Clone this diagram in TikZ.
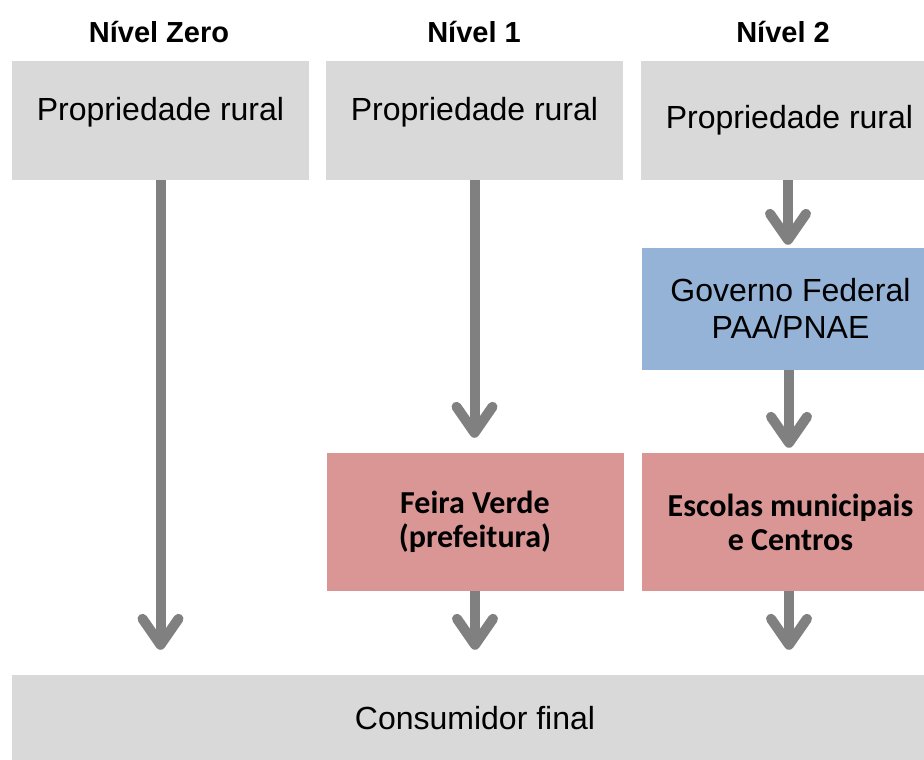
\documentclass[tikz,border=0pt]{standalone}
\usepackage{fontspec}
\setmainfont{Liberation Sans}
\newfontfamily\calibri{Carlito}
\usetikzlibrary{arrows.meta}
\definecolor{boxgray}{HTML}{D9D9D9}
\definecolor{boxblue}{HTML}{95B3D7}
\definecolor{boxred}{HTML}{D99694}
\definecolor{arrowgray}{HTML}{808080}
\begin{document}
\begin{tikzpicture}[x=1pt, y=-1pt,
  level/.style={font=\fontsize{29}{33}\selectfont\bfseries},
  box/.style={minimum width=297pt, inner sep=0pt, align=center,
    font=\fontsize{32}{37}\selectfont},
  graybox/.style={box, fill=boxgray, minimum height=119pt},
  bluebox/.style={box, fill=boxblue, minimum height=122pt},
  redbox/.style={box, fill=boxred, minimum height=138pt,
    font=\fontsize{32}{34}\selectfont\calibri\bfseries},
  uptext/.style={text height=0.75em, text depth=0.85em},
  flow/.style={draw=arrowgray, line width=10pt,
    -{Straight Barb[length=26pt, width=36pt, round]}}]
  \useasboundingbox (0,0) rectangle (924,760);
  \begin{scope}
    \clip (0,0) rectangle (924,760);

    % Nível Zero
    \node[level] (lvl0) at (159,32) {Nível Zero};
    \node[graybox, uptext] (prop0) at (160.5,120.5) {Propriedade rural};

    % Nível 1
    \node[level] (lvl1) at (474,32) {Nível 1};
    \node[graybox, uptext] (prop1) at (474.5,120.5) {Propriedade rural};
    \node[redbox] (feira) at (475,522) {Feira Verde\\(prefeitura)};

    % Nível 2
    \node[level] (lvl2) at (783,32) {Nível 2};
    \node[graybox] (prop2) at (789.5,120.5) {Propriedade rural};
    \node[bluebox] (gov) at (790.5,309) {Governo Federal\\PAA/PNAE};
    \node[redbox] (escolas) at (790.5,522) {Escolas municipais\\e Centros};

    % Consumidor
    \node[box, fill=boxgray, minimum width=926pt, minimum height=87pt]
      (consumidor) at (475,718.5) {Consumidor final};

    % Setas
    \draw[flow, shorten >=25pt] (prop0.south) -- (prop0.south |- consumidor.north);
    \draw[flow, shorten >=15pt] (prop1.south) -- (prop1.south |- feira.north);
    \draw[flow, shorten >=25pt] (feira.south) -- (feira.south |- consumidor.north);
    \draw[flow, shorten >=3pt] ([xshift=-1.5pt]prop2.south) -- ([xshift=-1.5pt]prop2.south |- gov.north);
    \draw[flow, shorten >=5pt] ([xshift=-1.5pt]gov.south) -- ([xshift=-1.5pt]gov.south |- escolas.north);
    \draw[flow, shorten >=25pt] ([xshift=-1.5pt]escolas.south) -- ([xshift=-1.5pt]escolas.south |- consumidor.north);
  \end{scope}
\end{tikzpicture}
\end{document}
